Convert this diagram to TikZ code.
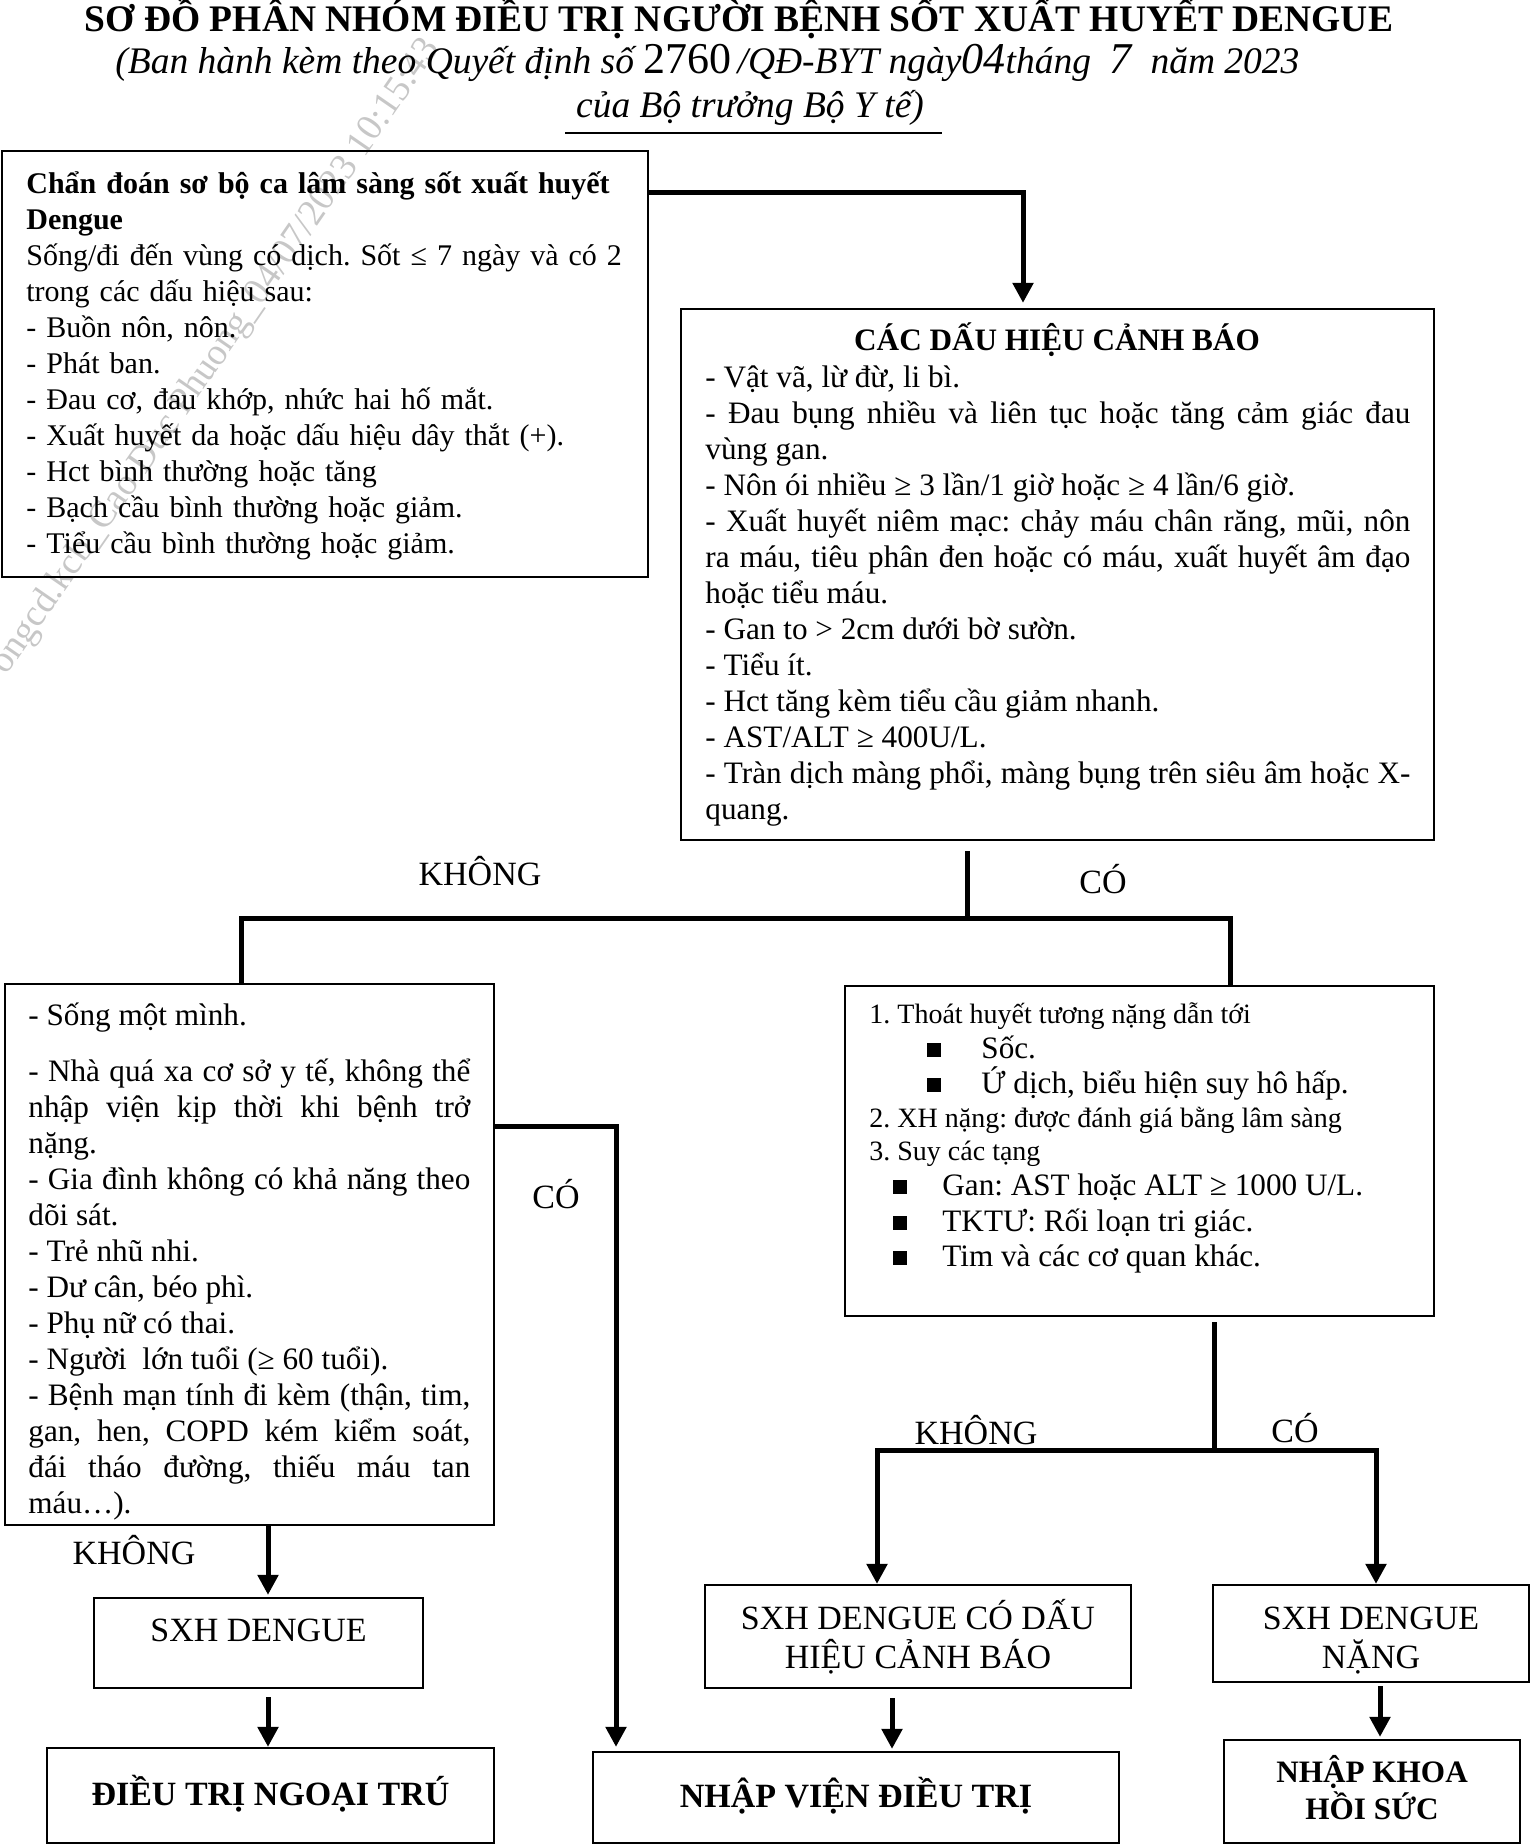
\documentclass[tikz,border=0pt]{standalone}
\usepackage{fontspec}
\setmainfont{Liberation Serif}
\usetikzlibrary{arrows.meta,fit}
\frenchspacing
\newcommand\bodyf{\fontsize{15.6pt}{18pt}\selectfont\frenchspacing\lineskiplimit=-30pt\hyphenpenalty=10000\exhyphenpenalty=10000\tolerance=10000\parindent=0pt}
\newcommand\boxonef{\fontsize{15pt}{18pt}\selectfont\frenchspacing\lineskiplimit=-30pt\hyphenpenalty=10000\exhyphenpenalty=10000\tolerance=10000\parindent=0pt}
\newcommand\smallf{\fontsize{14pt}{17pt}\selectfont\frenchspacing}
\newcommand\bigf{\fontsize{17pt}{20pt}\selectfont}
\newcommand\titlef{\fontsize{18.75pt}{22pt}\selectfont}
\newcommand\numf{\fontsize{22pt}{24pt}\selectfont}
\newcommand\mystrut{\rule{0pt}{16pt}}
\begin{document}
\begin{tikzpicture}[x=0.5pt,y=-0.5pt,
  box/.style={draw,line width=1.1pt,inner sep=0pt},
  conn/.style={line width=2.5pt},
  arr/.style={-{Triangle[length=10pt,width=10pt]}},
  lbl/.style={font=\bigf,anchor=base,inner sep=0pt},
  item/.style={anchor=base west,inner sep=0pt},
  sq/.style={fill=black,inner sep=0pt,minimum size=7pt}]
\useasboundingbox (0,0) rectangle (1531,1845);
% watermark
\node[rotate=55.4,text=black!22,font=\titlef,inner sep=0pt] (wm) at (216,357) {ongcd.kcb\_Cao Duc Phuong\_04/07/2023 10:15:43};
% heading
\node[font=\titlef\bfseries,anchor=base,inner sep=0pt] (title) at (739,32) {SƠ ĐỒ PHÂN NHÓM ĐIỀU TRỊ NGƯỜI BỆNH SỐT XUẤT HUYẾT DENGUE};
\node[font=\titlef\itshape,anchor=base west,inner sep=0pt] (sub1) at (115,74) {(Ban hành kèm theo Quyết định số {\numf\upshape 2760}\,/QĐ-BYT ngày{\numf 04}tháng\ \ {\numf 7}\ \ năm 2023};
\node[font=\titlef\itshape,anchor=base,inner sep=0pt] (sub2) at (750,118) {của Bộ trưởng Bộ Y tế)};
\coordinate (ul1) at (565,133);
\coordinate (ul2) at (942,133);
\draw[line width=1.4pt] (ul1) -- (ul2);
% boxes
\node[box,fit={(2,151) (648,577)}] (b1) {};
\node[box,fit={(681,309) (1434,840)}] (b2) {};
\node[box,fit={(5,984) (494,1525)}] (b3) {};
\node[box,fit={(845,986) (1434,1316)}] (b4) {};
\node[box,fit={(94,1598) (423,1688)}] (b5) {};
\node[box,fit={(47,1748) (494,1843)}] (b6) {};
\node[box,fit={(705,1585) (1131,1688)}] (b7) {};
\node[box,fit={(593,1752) (1119,1843)}] (b8) {};
\node[box,fit={(1213,1585) (1529,1682)}] (b9) {};
\node[box,fit={(1224,1740) (1520,1843)}] (b10) {};
% box 1 text
\node[anchor=north west,inner sep=0pt,text width=320pt,align=left,font=\boxonef] (t1) at (26,161) {\mystrut\textbf{Chẩn đoán sơ bộ ca lâm sàng sốt xuất huyết}\\
\textbf{Dengue}\\
Sống/đi đến vùng có dịch. Sốt ≤ 7 ngày và có 2\\
trong các dấu hiệu sau:\\
- Buồn nôn, nôn.\\
- Phát ban.\\
- Đau cơ, đau khớp, nhức hai hố mắt.\\
- Xuất huyết da hoặc dấu hiệu dây thắt (+).\\
- Hct bình thường hoặc tăng\\
- Bạch cầu bình thường hoặc giảm.\\
- Tiểu cầu bình thường hoặc giảm.};
% box 2 text
\node[font=\bodyf\bfseries,anchor=base,inner sep=0pt] (t2h) at (1057,351) {CÁC DẤU HIỆU CẢNH BÁO};
\node[anchor=north west,inner sep=0pt,text width=352.5pt,align=justify,font=\bodyf] (t2) at (705,355) {\mystrut - Vật vã, lừ đừ, li bì.\par
- Đau bụng nhiều và liên tục hoặc tăng cảm giác đau\linebreak vùng gan.\par
- Nôn ói nhiều ≥ 3 lần/1 giờ hoặc ≥ 4 lần/6 giờ.\par
- Xuất huyết niêm mạc: chảy máu chân răng, mũi, nôn\linebreak ra máu, tiêu phân đen hoặc có máu, xuất huyết âm đạo\linebreak hoặc tiểu máu.\par
- Gan to > 2cm dưới bờ sườn.\par
- Tiểu ít.\par
- Hct tăng kèm tiểu cầu giảm nhanh.\par
- AST/ALT ≥ 400U/L.\par
- Tràn dịch màng phổi, màng bụng trên siêu âm hoặc X-\linebreak quang.\par};
% box 3 text
\node[anchor=north west,inner sep=0pt,text width=221pt,align=justify,font=\bodyf] (t3) at (28,993) {\mystrut - Sống một mình.\par\vspace{10pt}
- Nhà quá xa cơ sở y tế, không thể\linebreak nhập viện kịp thời khi bệnh trở\linebreak nặng.\par
- Gia đình không có khả năng theo\linebreak dõi sát.\par
- Trẻ nhũ nhi.\par
- Dư cân, béo phì.\par
- Phụ nữ có thai.\par
- Người\ \ lớn tuổi (≥ 60 tuổi).\par
- Bệnh mạn tính đi kèm (thận, tim,\linebreak gan, hen, COPD kém kiểm soát,\linebreak đái tháo đường, thiếu máu tan\linebreak máu…).\par};
% box 4 text
\node[item,font=\smallf] (l1) at (869,1023) {1. Thoát huyết tương nặng dẫn tới};
\node[sq] (q1) at (934,1050) {};
\node[item,font=\bodyf] (l1a) at (981,1058) {Sốc.};
\node[sq] (q2) at (934,1085) {};
\node[item,font=\bodyf] (l1b) at (981,1093) {Ứ dịch, biểu hiện suy hô hấp.};
\node[item,font=\smallf] (l2) at (869,1127) {2. XH nặng: được đánh giá bằng lâm sàng};
\node[item,font=\smallf] (l3) at (869,1160) {3. Suy các tạng};
\node[sq] (q3) at (900,1187) {};
\node[item,font=\bodyf] (l3a) at (942,1195) {Gan: AST hoặc ALT ≥ 1000 U/L.};
\node[sq] (q4) at (900,1223) {};
\node[item,font=\bodyf] (l3b) at (942,1231) {TKTƯ: Rối loạn tri giác.};
\node[sq] (q5) at (900,1258) {};
\node[item,font=\bodyf] (l3c) at (942,1266) {Tim và các cơ quan khác.};
% bottom box texts
\node[lbl] (t5) at (258.5,1641) {SXH DENGUE};
\node[lbl,font=\bigf\bfseries] (t6) at (270.5,1805) {ĐIỀU TRỊ NGOẠI TRÚ};
\node[lbl] (t7a) at (918,1629) {SXH DENGUE CÓ DẤU};
\node[lbl] (t7b) at (918,1668) {HIỆU CẢNH BÁO};
\node[lbl,font=\bigf\bfseries] (t8) at (856,1807) {NHẬP VIỆN ĐIỀU TRỊ};
\node[lbl] (t9a) at (1371,1629) {SXH DENGUE};
\node[lbl] (t9b) at (1371,1668) {NẶNG};
\node[lbl,font=\bodyf\bfseries] (t10a) at (1372,1782) {NHẬP KHOA};
\node[lbl,font=\bodyf\bfseries] (t10b) at (1372,1819) {HỒI SỨC};
% labels
\node[lbl] (k1) at (480,885) {KHÔNG};
\node[lbl] (c1) at (1103,893) {CÓ};
\node[lbl] (c2) at (556,1208) {CÓ};
\node[lbl] (k2) at (134,1564) {KHÔNG};
\node[lbl] (k3) at (976,1444) {KHÔNG};
\node[lbl] (c3) at (1295,1442) {CÓ};
% connectors
\coordinate (p1) at (648,193);
\coordinate (x1) at (1023,0);
\draw[conn,arr,shorten >=2.5pt] (p1) -| (b2.north -| x1);
\coordinate (j1) at (967,918);
\coordinate (xa) at (241,0);
\coordinate (xb) at (1230,0);
\draw[conn,shorten <=5pt] (b2.south -| j1) -- (j1);
\draw[conn] (b3.north -| xa) |- (j1) -| (b4.north -| xb);
\coordinate (p3) at (494,1126);
\coordinate (x3) at (616,0);
\draw[conn,arr,shorten >=2pt] (p3) -| (b8.north -| x3);
\coordinate (x4) at (268,0);
\draw[conn,arr,shorten >=1pt] (b3.south -| x4) -- (b5.north -| x4);
\draw[conn,arr,shorten <=4pt] (b5.south -| x4) -- (b6.north -| x4);
\coordinate (j2) at (1214,1450);
\coordinate (xc) at (877,0);
\coordinate (xd) at (1376,0);
\draw[conn,shorten <=2.5pt] (b4.south -| j2) -- (j2);
\draw[conn,arr] (j2) -| (b7.north -| xc);
\draw[conn,arr] (j2) -| (b9.north -| xd);
\coordinate (x7) at (892,0);
\draw[conn,arr,shorten <=4.5pt,shorten >=1pt] (b7.south -| x7) -- (b8.north -| x7);
\coordinate (x9) at (1380,0);
\draw[conn,arr,shorten <=1.5pt,shorten >=1pt] (b9.south -| x9) -- (b10.north -| x9);
\end{tikzpicture}
\end{document}
